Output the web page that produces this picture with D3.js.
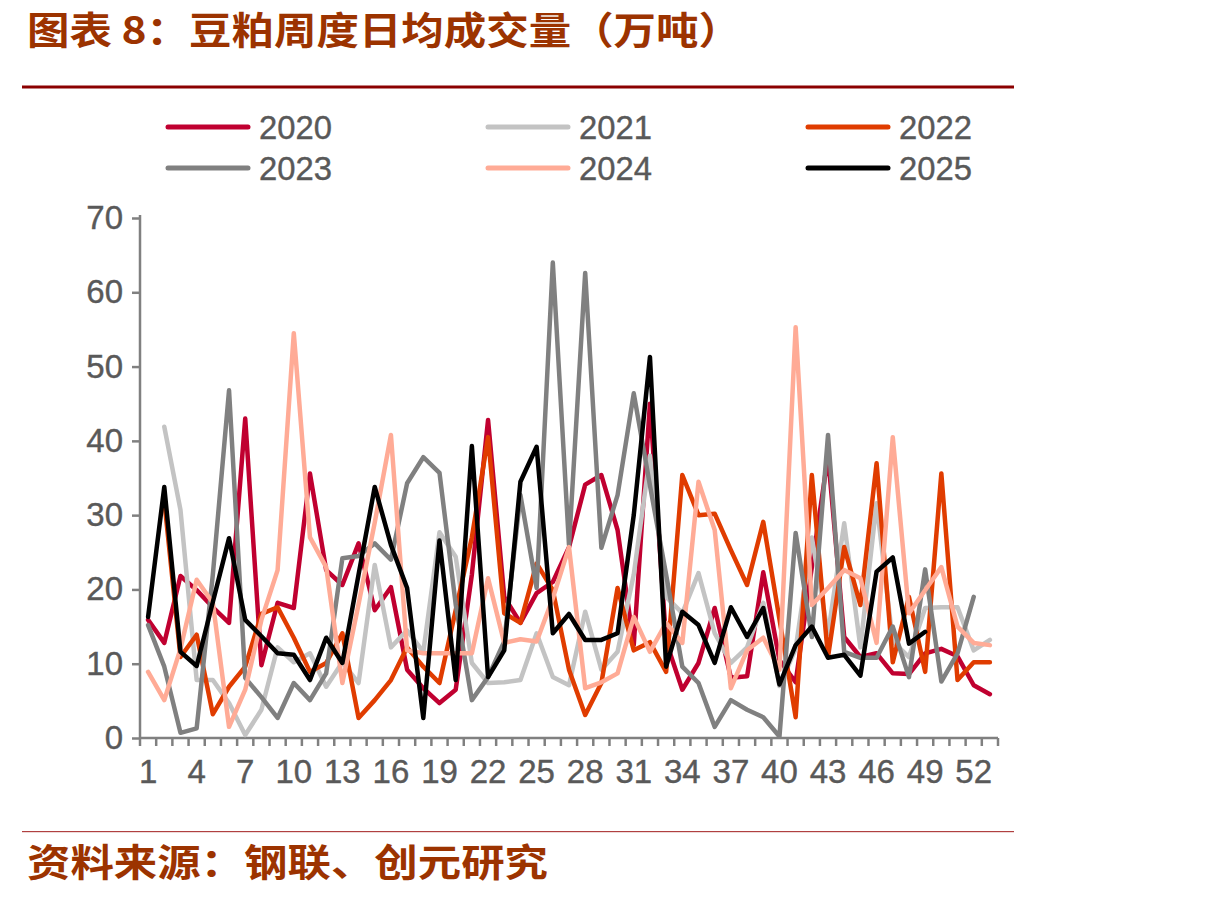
<!DOCTYPE html>
<html><head><meta charset="utf-8">
<script src="https://cdn.jsdelivr.net/npm/d3@7/dist/d3.min.js"></script>
<style>html,body{margin:0;padding:0;background:#fff;}svg{display:block;}</style>
</head><body>
<svg id="chart" width="1216" height="897"></svg>
<script>
const weeks = d3.range(1, 54);
const years = ["2020", "2021", "2022", "2023", "2024", "2025"];
const colors = ["#C00030", "#C3C3C3", "#E03C00", "#808080", "#FFAB96", "#000000"];
const xTickLabels = [1, 4, 7, 10, 13, 16, 19, 22, 25, 28, 31, 34, 37, 40, 43, 46, 49, 52];
const yTicks = [0, 10, 20, 30, 40, 50, 60, 70];

const s2020 = [15.9,12.8,21.8,19.9,17.6,15.5,43,9.8,18.2,17.5,35.6,22.6,20.6,26.2,17.2,20.3,9.2,6.7,4.7,6.5,22,42.8,19,15.5,19.5,21,25.7,34.1,35.4,28,12.5,45,13,6.5,10.1,17.5,8.1,8.3,22.3,10.5,7.5,23,38,13.6,10.9,11.4,8.7,8.6,11.4,12,11,7.1,5.9];
const s2021 = [null,41.9,30.7,7.8,7.8,4.7,0.4,3.8,12.2,10.2,11.4,6.9,10.2,7.4,23.3,12.2,14.5,11.6,27.7,24.4,10.1,7.4,7.5,7.8,14.1,8.2,7.1,17,9.2,11.6,22,38,19,16.8,22.2,14.1,10.1,12.2,18.2,7,12,27,14,28.9,12.2,31.6,13,10.9,17.5,17.6,17.6,11.8,13.2];
const s2022 = [null,32,10.9,13.9,3.2,6.9,9.6,16.7,17.6,13.5,8.9,10.1,14.1,2.7,5.1,7.8,12.2,9.6,7.4,17.2,27,40.5,16.8,15.5,23.5,19.9,9.2,3.1,7.4,20.2,11.8,12.9,8.9,35.4,30,30.2,25.3,20.6,29.1,16,2.8,35.4,10.9,25.7,17.9,37,10.2,19,8.9,35.6,7.8,10.2,10.2];
const s2023 = [15.2,9.6,0.7,1.3,22,46.8,8.1,5.5,2.7,7.4,5.1,8.7,24.2,24.5,26.2,24,34.3,37.8,35.7,18,5.1,8.2,13,32.7,20.2,64,26,62.6,25.6,32.7,46.4,34,22,9.6,7.4,1.5,5.1,3.8,2.8,0.2,27.6,13.6,40.8,11.6,10.8,10.8,15,8.2,22.7,7.6,11.4,19,null];
const s2024 = [8.9,5.1,12,21.3,18.2,1.5,6.5,15.9,22.6,54.5,27,23,7.4,18,29,40.8,11.8,11.4,11.4,11.4,11.4,21.5,12.8,13.3,13,18.8,25.7,6.7,7.5,8.7,16.3,11.6,15.5,12.8,34.5,28,6.7,11.8,13.5,9.2,55.3,17.9,20.2,22.6,21.5,12.8,40.5,16.8,19.9,23,15,12.8,12.5];
const s2025 = [16.3,33.8,11.6,9.7,18.3,26.9,15.9,13.7,11.4,11.2,7.8,13.5,10.1,22,33.8,26,20.2,2.7,26.6,7.8,39.3,8.2,11.8,34.5,39.2,14.1,16.7,13.2,13.2,14.1,30,51.3,9.6,17,15.2,10.1,17.6,13.6,17.5,7.2,12.5,15,10.8,11.2,8.4,22.4,24.3,12.7,14.3];
const seriesValues = [s2020, s2021, s2022, s2023, s2024, s2025];

const svg = d3.select("#chart");
const pLeft = 140, pRight = 998, pTop = 218, pBottom = 738;
const x = d3.scaleBand().domain(weeks).range([pLeft, pRight]).paddingInner(0).paddingOuter(0);
const y = d3.scaleLinear().domain([0, 70]).range([pBottom, pTop]);
const cx = w => x(w) + x.bandwidth() / 2;
const sans = "'Liberation Sans', Arial, sans-serif";

const titleColor = "#9C3300";
svg.append("text").attr("x", 27).attr("y", 44)
  .attr("font-family", "'Noto Sans CJK SC'").attr("font-weight", 700)
  .attr("font-size", 38).attr("fill", titleColor)
  .attr("textLength", 714).attr("lengthAdjust", "spacingAndGlyphs")
  .text("图表 8：豆粕周度日均成交量（万吨）");
svg.append("rect").attr("x", 22).attr("y", 85.5).attr("width", 992).attr("height", 3).attr("fill", "#8B0000");

// legend
const legX = [168, 488, 808], legY = [127, 168];
years.forEach((yr, i) => {
  const lx = legX[i % 3], ly = legY[Math.floor(i / 3)];
  svg.append("line").attr("x1", lx).attr("x2", lx + 80).attr("y1", ly).attr("y2", ly)
    .attr("stroke", colors[i]).attr("stroke-width", 5).attr("stroke-linecap", "round");
  svg.append("text").attr("x", lx + 91).attr("y", ly + 12)
    .attr("font-family", sans).attr("font-size", 34)
    .attr("fill", "#595959").attr("stroke", "#595959").attr("stroke-width", 0.4)
    .attr("textLength", 73).attr("lengthAdjust", "spacingAndGlyphs").text(yr);
});

// axes
const yAxis = d3.axisLeft(y).tickValues(yTicks).tickSize(8).tickPadding(9);
const gy = svg.append("g").attr("transform", `translate(${pLeft},0)`).call(yAxis);
gy.select(".domain").attr("stroke", "#808080").attr("stroke-width", 2.5).attr("d", `M0,${pTop - 3}V${pBottom}`);
gy.selectAll(".tick line").attr("stroke", "#808080").attr("stroke-width", 2.5);
gy.selectAll(".tick text").attr("font-family", sans)
  .attr("font-size", 33).attr("fill", "#595959").attr("stroke", "#595959").attr("stroke-width", 0.4);

const xAxis = d3.axisBottom(x).tickValues(xTickLabels).tickSize(0).tickPadding(22);
const gx = svg.append("g").attr("transform", `translate(0,${pBottom})`).call(xAxis);
gx.select(".domain").attr("stroke", "#808080").attr("stroke-width", 2.5).attr("d", `M${pLeft},0H${pRight}`);
gx.selectAll(".tick text").attr("font-family", sans)
  .attr("font-size", 33).attr("fill", "#595959").attr("stroke", "#595959").attr("stroke-width", 0.4);
const boundaries = weeks.map(w => x(w)).concat([pRight]);
svg.append("g").selectAll("line").data(boundaries).join("line")
  .attr("x1", d => d).attr("x2", d => d).attr("y1", pBottom).attr("y2", pBottom + 8)
  .attr("stroke", "#808080").attr("stroke-width", 2.5);

// lines
const line = d3.line().defined(d => d.v != null).x(d => cx(d.w)).y(d => y(d.v));
seriesValues.forEach((vals, i) => {
  const pts = vals.map((v, k) => ({ w: weeks[k], v: v }));
  svg.append("path").attr("d", line(pts)).attr("fill", "none")
    .attr("stroke", colors[i]).attr("stroke-width", 4.5)
    .attr("stroke-linejoin", "round").attr("stroke-linecap", "round");
});

// footer
svg.append("rect").attr("x", 22).attr("y", 831).attr("width", 992).attr("height", 1.2).attr("fill", "#B04040");
svg.append("text").attr("x", 27).attr("y", 876)
  .attr("font-family", "'Noto Sans CJK SC'").attr("font-weight", 700)
  .attr("font-size", 38).attr("fill", titleColor)
  .attr("textLength", 521).attr("lengthAdjust", "spacingAndGlyphs")
  .text("资料来源：钢联、创元研究");
</script>
</body></html>
